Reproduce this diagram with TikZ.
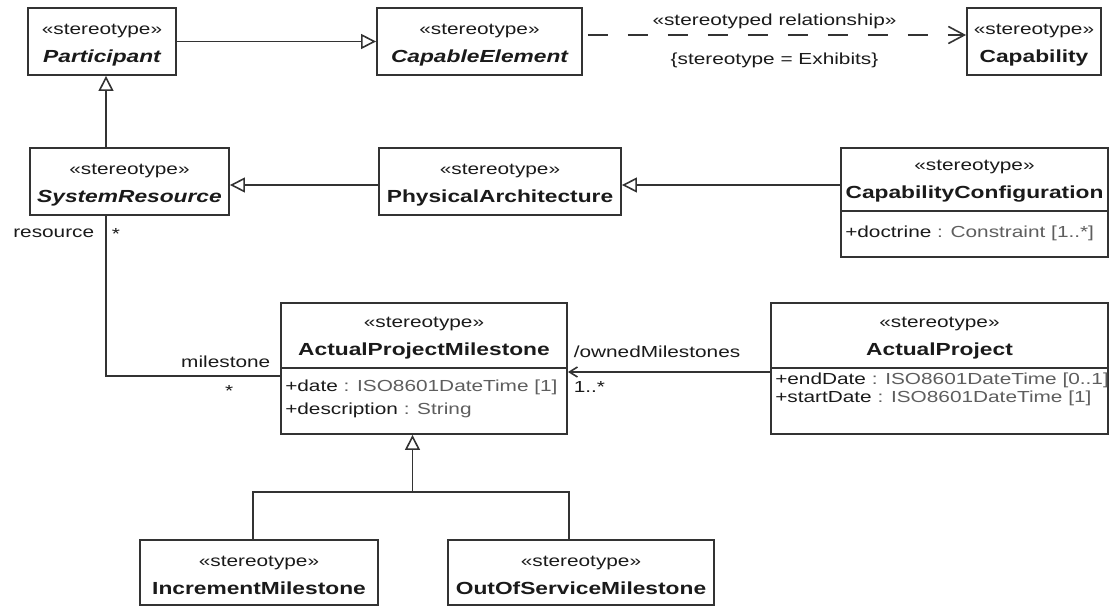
\documentclass[tikz,border=0pt]{standalone}
\usepackage{fontspec}
\setmainfont{Liberation Sans}[FakeStretch=1.3]
\usetikzlibrary{arrows.meta, positioning, calc}

\definecolor{umlline}{HTML}{333333}
\definecolor{umltext}{HTML}{1A1A1A}
\definecolor{umltype}{HTML}{5E5E5E}

\newcommand{\stereo}{\rule{0pt}{17pt}«stereotype»}
\newcommand{\cname}[1]{{\fontsize{17.5}{28}\selectfont\bfseries #1}}
\newcommand{\attrtype}[1]{\textcolor{umltype}{#1}}

\begin{document}
\begin{tikzpicture}[
    x=1pt, y=-1pt,
    cls/.style={draw=umlline, line width=1.9pt, fill=white, inner sep=0pt,
                align=center, text=umltext, font=\fontsize{16}{28}\selectfont},
    head/.style={inner sep=0pt, align=center, text=umltext,
                 font=\fontsize{16}{28}\selectfont},
    attr/.style={anchor=base west, inner sep=0pt, text=umltext,
                 font=\fontsize{16}{19}\selectfont},
    lbl/.style={inner sep=0pt, text=umltext, font=\fontsize{16}{19}\selectfont},
    sep/.style={draw=umlline, line width=1.7pt},
    assoc/.style={draw=umlline, line width=1.6pt},
    gen/.style={assoc, -{Triangle[open, length=15pt, width=15pt]}},
    nav/.style={assoc, -{Straight Barb[length=8pt, width=10pt]}},
    dep/.style={assoc, dash pattern=on 20pt off 20pt, shorten <=5pt,
                -{Straight Barb[length=16pt, width=17pt]}}
  ]
  \fill[white] (0,0) rectangle (1111,607);
  \useasboundingbox (0,0) rectangle (1111,607);

  % top row
  \node[cls, minimum width=148pt, minimum height=67pt] (part) at (102,41.5)
    {\stereo\\\cname{\itshape Participant}};
  \node[cls, minimum width=205pt, minimum height=67pt] (capel) at (479.5,41.5)
    {\stereo\\\cname{\itshape CapableElement}};
  \node[cls, minimum width=134pt, minimum height=67pt] (capab) at (1034,41.5)
    {\stereo\\\cname{Capability}};

  % second row
  \node[cls, minimum width=199pt, minimum height=67pt] (sysres) at (129.5,181.5)
    {\stereo\\\cname{\itshape SystemResource}};
  \node[cls, minimum width=242pt, minimum height=67pt] (phys) at (500,181.5)
    {\stereo\\\cname{PhysicalArchitecture}};
  \node[cls, minimum width=267pt, minimum height=109pt] (capconf) at (974.5,202.5) {};
  \node[head] (capconf-h) at ([yshift=-30.5pt]capconf.north)
    {\stereo\\\cname{CapabilityConfiguration}};
  \draw[sep] ([yshift=-64pt]capconf.north west) -- ([yshift=-64pt]capconf.north east);
  \node[attr] (capconf-a1) at ([shift={(5pt,-90.5pt)}]capconf.north west)
    {+doctrine \attrtype{: Constraint [1..*]}};

  % milestones
  \node[cls, minimum width=286pt, minimum height=131pt] (apm) at (424,368.5) {};
  \node[head] (apm-h) at ([yshift=-32.5pt]apm.north)
    {\stereo\\\cname{ActualProjectMilestone}};
  \draw[sep] ([yshift=-66pt]apm.north west) -- ([yshift=-66pt]apm.north east);
  \node[attr] (apm-a1) at ([shift={(5pt,-89.5pt)}]apm.north west)
    {+date \attrtype{: ISO8601DateTime [1]}};
  \node[attr] (apm-a2) at ([shift={(5pt,-112.5pt)}]apm.north west)
    {+description \attrtype{: String}};

  \node[cls, minimum width=337pt, minimum height=131pt] (actproj) at (939.5,368.5) {};
  \node[head] (actproj-h) at ([yshift=-32.5pt]actproj.north)
    {\stereo\\\cname{ActualProject}};
  \draw[sep] ([yshift=-66pt]actproj.north west) -- ([yshift=-66pt]actproj.north east);
  \node[attr] (actproj-a1) at ([shift={(5pt,-82pt)}]actproj.north west)
    {+endDate \attrtype{: ISO8601DateTime [0..1]}};
  \node[attr] (actproj-a2) at ([shift={(5pt,-100pt)}]actproj.north west)
    {+startDate \attrtype{: ISO8601DateTime [1]}};

  \node[cls, minimum width=238pt, minimum height=65pt] (incr) at (259,572.5)
    {\stereo\\\cname{IncrementMilestone}};
  \node[cls, minimum width=266pt, minimum height=65pt] (oos) at (581,572.5)
    {\stereo\\\cname{OutOfServiceMilestone}};

  % connectors
  \coordinate (r2) at (0,185);
  \coordinate (fork) at (412.5,492);

  \draw[gen] (part) -- (capel);
  \draw[dep] ([yshift=6.5pt]capel.east) -- ([yshift=6.5pt]capab.west)
    node[lbl, midway, yshift=14pt] (dep-st) {«stereotyped relationship»}
    node[lbl, midway, yshift=-25pt] (dep-tag) {\{stereotype = Exhibits\}};
  \draw[gen] ([xshift=-23.5pt]sysres.north) -- ([xshift=4pt]part.south);
  \draw[gen] (phys.west |- r2) -- (sysres.east |- r2);
  \draw[gen] (capconf.west |- r2) -- (phys.east |- r2);

  \draw[assoc] ([xshift=-23.5pt]sysres.south) |- ([yshift=-7.5pt]apm.west)
    node[lbl, pos=0.055, left=11pt] (res-role) {resource}
    node[lbl, pos=0.055, right=5pt] (res-mult) {*}
    node[lbl, pos=1, anchor=south east, xshift=-9pt, yshift=8pt] (ms-role) {milestone}
    node[lbl, pos=1, xshift=-51pt, yshift=-15pt] (ms-mult) {*};

  \draw[nav] ([yshift=-3.5pt]actproj.west) -- ([yshift=-3.5pt]apm.east)
    node[lbl, pos=1, anchor=west, xshift=5pt, yshift=20pt] (own-role) {/ownedMilestones}
    node[lbl, pos=1, anchor=west, xshift=5pt, yshift=-15pt] (own-mult) {1..*};

  \draw[gen] (fork) -- (fork |- apm.south);
  \draw[assoc] ([xshift=-6pt]incr.north) |- (fork) -| ([xshift=-12pt]oos.north);
\end{tikzpicture}
\end{document}
